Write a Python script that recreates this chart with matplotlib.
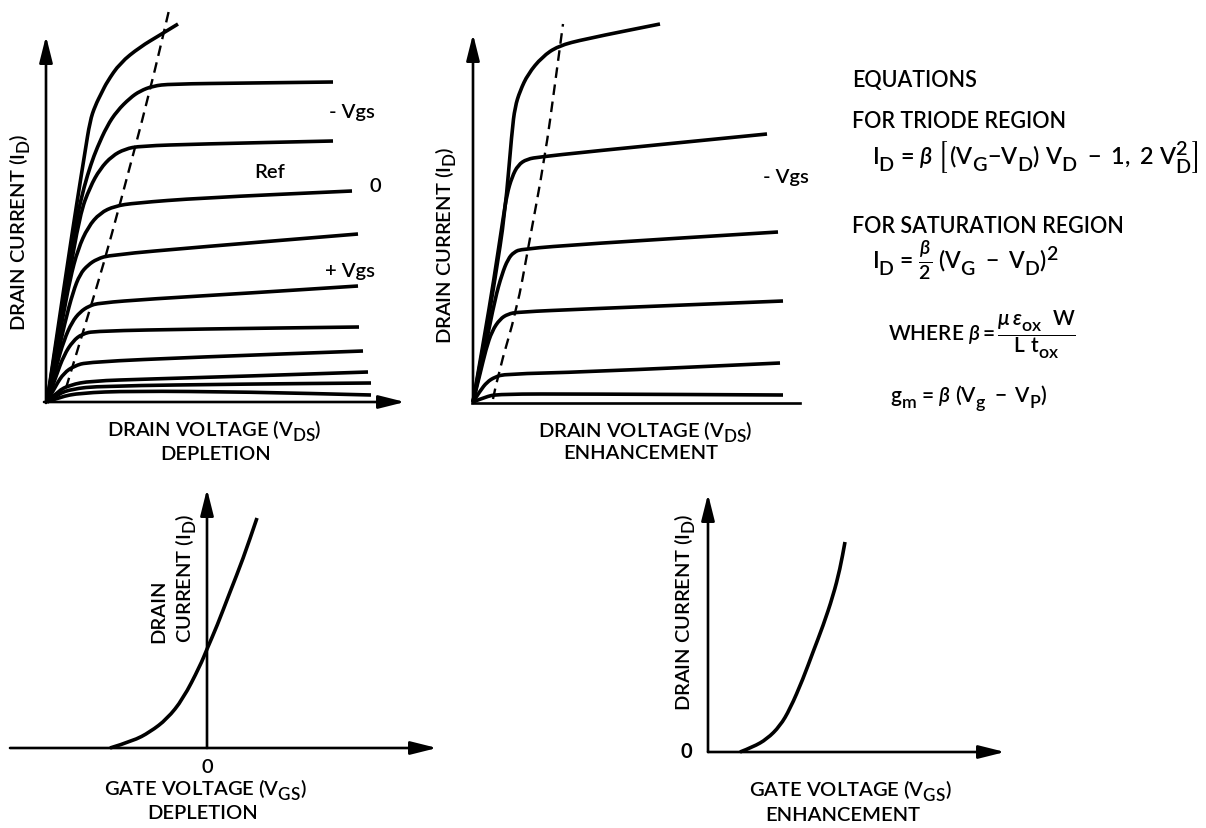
import matplotlib
matplotlib.use('Agg')
import matplotlib.pyplot as plt
from matplotlib.path import Path
from matplotlib.patches import PathPatch
import matplotlib._mathtext as mt

plt.rcParams['font.family'] = ['Lato', 'DejaVu Sans']
plt.rcParams['font.weight'] = 'semibold'
plt.rcParams['mathtext.fontset'] = 'custom'
plt.rcParams['mathtext.rm'] = 'Lato:semibold'
plt.rcParams['mathtext.it'] = 'Lato:italic:semibold'
plt.rcParams['mathtext.bf'] = 'Lato:bold'
plt.rcParams['mathtext.fallback'] = 'stixsans'

# the old drawing uses nearly full-size, deeply dropped subscripts
try:
    mt.SHRINK_FACTOR = 0.85
    mt.FontConstantsBase.sub1 = 0.55
    mt.FontConstantsBase.sub2 = 0.7
except AttributeError:
    pass

W, H = 1206, 829

# --- depletion output characteristics (VDS, ID), arbitrary units ---
dep1_v = [0, 20, 30, 38, 43, 48, 55, 60, 73, 93, 113, 131]
dep1_i = [0, 135, 200, 250, 281, 296, 310, 320, 339, 355, 367, 378]
dep2_v = [0, 20, 30, 37, 44, 50, 60, 70, 83, 93, 106, 123, 203, 286]
dep2_i = [0, 126, 185, 215, 238, 254, 276, 291, 304, 311, 316, 318, 319, 320]
dep3_v = [0, 20, 33, 43, 53, 65, 78, 93, 153, 286]
dep3_i = [0, 114, 188, 215, 233, 246, 253, 256, 258, 261]
dep4_v = [0, 15, 23, 31, 41, 53, 68, 88, 153, 305]
dep4_i = [0, 80, 123, 153, 175, 189, 196, 199, 204, 211]
dep5_v = [0, 9, 18, 26, 33, 41, 50, 63, 153, 311]
dep5_i = [0, 40, 80, 110, 128, 137, 143, 147, 155, 168]
dep6_v = [0, 9, 17, 25, 33, 42, 52, 103, 203, 311]
dep6_i = [0, 35, 62, 80, 90, 96, 99, 103, 109, 116]
dep7_v = [0, 9, 17, 26, 35, 48, 153, 312]
dep7_i = [0, 26, 47, 61, 68, 71, 73, 75]
dep8_v = [0, 9, 17, 27, 41, 153, 316]
dep8_i = [0, 17, 29, 36, 40, 45, 51]
dep9_v = [0, 11, 23, 43, 103, 203, 321]
dep9_i = [0, 11, 17, 21, 23, 26, 30]
dep10_v = [0, 11, 25, 53, 203, 324]
dep10_i = [0, 8, 13, 16, 18, 19]
dep11_v = [0, 13, 33, 83, 203, 324]
dep11_i = [0, 5, 9, 11, 10, 7]
dep_sat_v = [19, 43, 56, 73, 103, 123]
dep_sat_i = [14, 93, 136, 198, 311, 396]

# --- enhancement output characteristics ---
enh1_v = [0, 12, 22, 32, 39, 42, 47, 55, 69, 85, 112, 187]
enh1_i = [0, 63, 123, 188, 271, 295, 311, 328, 345, 356, 363, 378]
enh2_v = [0, 11, 21, 30, 34, 39, 45, 54, 67, 112, 294]
enh2_i = [0, 63, 123, 183, 208, 225, 237, 243, 245, 250, 268]
enh3_v = [0, 12, 22, 29, 35, 41, 49, 112, 305]
enh3_i = [0, 53, 103, 128, 143, 150, 153, 158, 170]
enh4_v = [0, 7, 13, 19, 27, 35, 45, 112, 310]
enh4_i = [0, 28, 53, 71, 83, 88, 90, 93, 101]
enh5_v = [0, 7, 14, 22, 32, 112, 307]
enh5_i = [0, 11, 20, 25, 28, 30, 39]
enh6_v = [0, 12, 25, 112, 310]
enh6_i = [0, 5, 8, 8, 7]
enh_sat_v = [20, 25, 44, 55, 72, 82, 90]
enh_sat_i = [3, 28, 93, 153, 245, 318, 378]

# --- transfer characteristics (VGS, ID) ---
tdep_v = [-97, -74, -57, -40, -24, -7, 0, 10, 23, 36, 50]
tdep_i = [0, 7, 16, 29, 49, 82, 99, 122, 156, 189, 230]
tenh_v = [32, 45, 59, 72, 82, 95, 105, 115, 125, 132, 137]
tenh_i = [0, 5, 13, 26, 43, 73, 100, 126, 156, 183, 210]

fig = plt.figure(figsize=(W / 100, H / 100), dpi=100)
fig.patch.set_facecolor('white')

LW = 2.6
FS = 14.5


def panel(ox, oy, x0, x1, y0, y1):
    ax = fig.add_axes([(ox + x0) / W, 1 - (oy - y0) / H, (x1 - x0) / W, (y1 - y0) / H])
    ax.set_xlim(x0, x1)
    ax.set_ylim(y0, y1)
    ax.axis('off')
    return ax


def arrow(ax, start, end):
    ax.annotate('', xy=end, xytext=start, annotation_clip=False,
                arrowprops=dict(arrowstyle='-|>,head_length=1.6,head_width=0.4',
                                mutation_scale=10, lw=1.9, color='k',
                                shrinkA=0, shrinkB=0))


def curve(ax, x, y, lw=LW, ls='-'):
    # smooth pen stroke through the read points (quadratic bezier segments)
    pts = list(zip(x, y))
    verts = [pts[0]]
    codes = [Path.MOVETO]
    for k in range(1, len(pts) - 1):
        mid = ((pts[k][0] + pts[k + 1][0]) / 2, (pts[k][1] + pts[k + 1][1]) / 2)
        verts += [pts[k], mid]
        codes += [Path.CURVE3, Path.CURVE3]
    verts.append(pts[-1])
    codes.append(Path.LINETO)
    ax.add_patch(PathPatch(Path(verts, codes), fill=False, edgecolor='k', lw=lw,
                           linestyle=ls, clip_on=False, joinstyle='round', capstyle='butt'))


def ftext(x, y, s, **kw):
    kw.setdefault('fontsize', FS)
    kw.setdefault('ha', 'center')
    kw.setdefault('va', 'center')
    fig.text(x / W, 1 - y / H, s, **kw)


DASH = (0, (4.5, 2.8))

# panel 1: depletion drain characteristics
ax1 = panel(47, 403, -3, 358, 0, 366)
arrow(ax1, (-1, -1), (-1, 366))
arrow(ax1, (-3, 0), (358, 0))
for v, i in [(dep1_v, dep1_i), (dep2_v, dep2_i), (dep3_v, dep3_i), (dep4_v, dep4_i),
             (dep5_v, dep5_i), (dep6_v, dep6_i), (dep7_v, dep7_i), (dep8_v, dep8_i),
             (dep9_v, dep9_i), (dep10_v, dep10_i), (dep11_v, dep11_i)]:
    curve(ax1, v, i)
curve(ax1, dep_sat_v, dep_sat_i, lw=1.7, ls=DASH)

ftext(352, 113, '- Vgs')
ftext(270, 173, 'Ref')
ftext(375, 186, '0')
ftext(350, 272, '+ Vgs')
ftext(20, 232, 'DRAIN CURRENT (I$_\\mathrm{D}$)', rotation=90)
ftext(214, 431, 'DRAIN VOLTAGE (V$_\\mathrm{DS}$)')
ftext(216, 455, 'DEPLETION')

# panel 2: enhancement drain characteristics
ax2 = panel(473, 403, -1, 327, 0, 368)
arrow(ax2, (0, -1), (0, 368))
ax2.plot([-1, 327], [-1, -1], color='k', lw=1.9, clip_on=False)
for v, i in [(enh1_v, enh1_i), (enh2_v, enh2_i), (enh3_v, enh3_i),
             (enh4_v, enh4_i), (enh5_v, enh5_i), (enh6_v, enh6_i)]:
    curve(ax2, v, i)
curve(ax2, enh_sat_v, enh_sat_i, lw=1.7, ls=DASH)

ftext(786, 177, '- Vgs')
ftext(446, 245, 'DRAIN CURRENT (I$_\\mathrm{D}$)', rotation=90)
ftext(645, 432, 'DRAIN VOLTAGE (V$_\\mathrm{DS}$)')
ftext(641, 454, 'ENHANCEMENT')

# panel 3: depletion transfer characteristic
ax3 = panel(207, 749, -197, 230, 0, 259)
arrow(ax3, (-197, 0), (230, 0))
arrow(ax3, (0, 0), (0, 259))
curve(ax3, tdep_v, tdep_i)
ftext(207, 768, '0')
ftext(159, 643, 'DRAIN', rotation=90, va='bottom')
ftext(186, 643, 'CURRENT (I$_\\mathrm{D}$)', rotation=90, va='bottom')
ftext(205, 790, 'GATE VOLTAGE (V$_\\mathrm{GS}$)')
ftext(203, 814, 'DEPLETION')

# panel 4: enhancement transfer characteristic
ax4 = panel(708, 753, -1, 297, 0, 258)
arrow(ax4, (0, 0), (0, 258))
arrow(ax4, (0, 0), (297, 0))
curve(ax4, tenh_v, tenh_i)
ftext(686, 752, '0', fontweight='bold')
ftext(685, 612, 'DRAIN CURRENT (I$_\\mathrm{D}$)', rotation=90)
ftext(850, 791, 'GATE VOLTAGE (V$_\\mathrm{GS}$)')
ftext(843, 816, 'ENHANCEMENT')

# equations
ftext(852, 80, 'EQUATIONS', ha='left', fontsize=15.5)
ftext(852, 122, 'FOR TRIODE REGION', ha='left', fontsize=15.5)
ftext(872, 157, r'$\mathrm{I_D}$ = $\beta$ $\left[\,\mathrm{(V_G{-}V_D)\ V_D\ -\ 1,\ 2\ V_D^2}\right]$',
      ha='left', fontsize=16.8)
ftext(852, 227, 'FOR SATURATION REGION', ha='left', fontsize=15.5)
ftext(872, 260, r'$\mathrm{I_D}$ = $\frac{\beta}{2}$ $\mathrm{(V_G\ -\ V_D)^2}$', ha='left', fontsize=16.5)
ftext(888, 335, r'WHERE $\beta = \dfrac{\mu\,\epsilon_{\mathrm{ox}}\ \ \mathrm{W}}{\mathrm{L\ t_{ox}}}$',
      ha='left', fontsize=15)
ftext(890, 398, r'$\mathrm{g_m}$ = $\beta$ $\mathrm{(V_g\ -\ V_P)}$', ha='left', fontsize=15)

fig.savefig('out.png', dpi=100, facecolor='white')
